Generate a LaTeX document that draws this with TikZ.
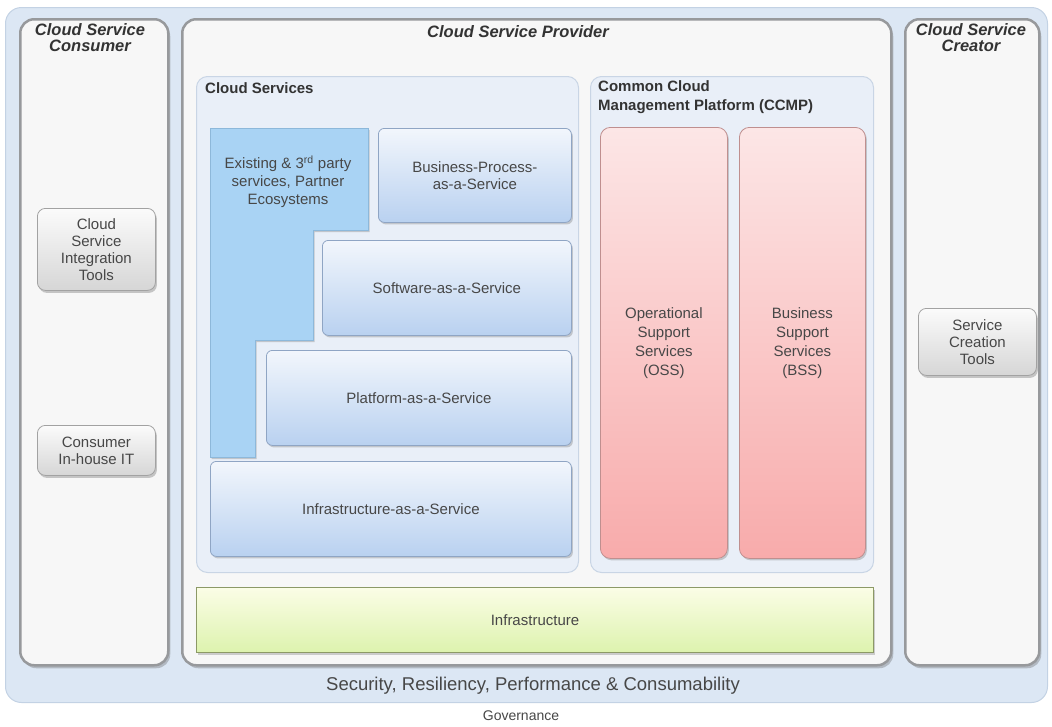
\documentclass[tikz,border=0pt]{standalone}
\usepackage{fontspec}
\setmainfont{Liberation Sans}
\usetikzlibrary{shadows}
\definecolor{outerfill}{HTML}{DCE7F4}
\definecolor{outerdraw}{HTML}{C3D2E4}
\definecolor{colfill}{HTML}{F7F7F7}
\definecolor{coldraw}{HTML}{97999C}
\definecolor{contfill}{HTML}{E9EFF8}
\definecolor{contdraw}{HTML}{C9D5E5}
\definecolor{bluetop}{HTML}{F2F6FC}
\definecolor{bluebot}{HTML}{B9D1F0}
\definecolor{bluedraw}{HTML}{8FA5C4}
\definecolor{lshape}{HTML}{A9D3F4}
\definecolor{lshapedraw}{HTML}{8DB8DA}
\definecolor{redtop}{HTML}{FCE6E6}
\definecolor{redbot}{HTML}{F8ABAB}
\definecolor{reddraw}{HTML}{BF8F8F}
\definecolor{greentop}{HTML}{FBFDE6}
\definecolor{greenbot}{HTML}{DDF3AE}
\definecolor{greendraw}{HTML}{8C9966}
\definecolor{graytop}{HTML}{FBFBFB}
\definecolor{graybot}{HTML}{D6D6D6}
\definecolor{graydraw}{HTML}{A2A2A2}
\definecolor{txt}{HTML}{474747}
\definecolor{ttl}{HTML}{333333}
\tikzset{
  box/.style={anchor=north west, inner sep=0pt, align=center, text=txt,
    font=\fontsize{15}{17}\selectfont},
  outerbox/.style={box, rounded corners=16pt, fill=outerfill, draw=outerdraw, line width=1pt},
  colbox/.style={box, rounded corners=14pt, fill=colfill, draw=coldraw, line width=2.5pt,
    drop shadow={shadow xshift=2pt, shadow yshift=-3pt, opacity=0.35, fill=black!60}},
  contbox/.style={box, rounded corners=11pt, fill=contfill, draw=contdraw, line width=1pt},
  bluebox/.style={box, rounded corners=6pt, top color=bluetop, bottom color=bluebot,
    draw=bluedraw, line width=0.8pt,
    drop shadow={shadow xshift=1.5pt, shadow yshift=-2pt, opacity=0.3, fill=black!60}},
  redbox/.style={box, rounded corners=10pt, top color=redtop, bottom color=redbot,
    draw=reddraw, line width=0.8pt, font=\fontsize{15}{19}\selectfont,
    drop shadow={shadow xshift=1.5pt, shadow yshift=-2pt, opacity=0.3, fill=black!60}},
  greenbox/.style={box, top color=greentop, bottom color=greenbot,
    draw=greendraw, line width=1pt,
    drop shadow={shadow xshift=1.5pt, shadow yshift=-2pt, opacity=0.3, fill=black!60}},
  graybox/.style={box, rounded corners=8pt, top color=graytop, bottom color=graybot,
    draw=graydraw, line width=0.8pt,
    drop shadow={shadow xshift=1.5pt, shadow yshift=-2.5pt, opacity=0.35, fill=black!60}},
  title/.style={inner sep=0pt, align=center, text=ttl,
    font=\fontsize{16.5}{16}\selectfont\bfseries\itshape},
  sublabel/.style={inner sep=0pt, anchor=north west, align=left, text=ttl,
    font=\fontsize{15}{19}\selectfont\bfseries},
}
\begin{document}
\begin{tikzpicture}[x=1pt, y=-1pt]
\fill[white] (0,0) rectangle (1052,726);
\useasboundingbox (0,0) rectangle (1052,726);

% outer frame
\node[outerbox, minimum width=1042pt, minimum height=695pt] (outer) at (5,7) {};
\node[inner sep=0pt, text=txt, font=\fontsize{18.5}{20}\selectfont] (sec) at (533,686)
  {Security, Resiliency, Performance \& Consumability};
\node[inner sep=0pt, text=txt, font=\fontsize{14}{16}\selectfont] (gov) at (521,716) {Governance};

% columns
\node[colbox, minimum width=148pt, minimum height=646pt] (consumer) at (19,18) {};
\node[colbox, minimum width=709pt, minimum height=646pt] (provider) at (181,18) {};
\node[colbox, minimum width=134pt, minimum height=646pt] (creator) at (904,18) {};

\node[title] (tconsumer) at (90,38) {Cloud Service\\Consumer};
\node[title] (tprovider) at (518,32) {Cloud Service Provider};
\node[title] (tcreator) at (971,38) {Cloud Service\\Creator};

% consumer tools
\node[graybox, minimum width=118pt, minimum height=82pt] (cit) at (37,208)
  {Cloud\\Service\\Integration\\Tools};
\node[graybox, minimum width=118pt, minimum height=50pt] (cih) at (37,425)
  {Consumer\\In-house IT};

% creator tools
\node[graybox, minimum width=118pt, minimum height=67pt] (sct) at (918,308)
  {Service\\Creation\\Tools};

% containers
\node[contbox, minimum width=382pt, minimum height=496pt] (cs) at (196,76) {};
\node[sublabel] (tcs) at (205,82) {Cloud Services};
\node[contbox, minimum width=283pt, minimum height=496pt] (ccmp) at (590,76) {};
\node[sublabel] (tccmp) at (598,80) {Common Cloud\\Management Platform (CCMP)};

% L-shape existing services
\fill[black!60, opacity=0.3, xshift=1.5pt, yshift=-2pt]
  (210,128) -- (368,128) -- (368,230) -- (313,230) -- (313,340) -- (255,340)
  -- (255,457) -- (210,457) -- cycle;
\draw[fill=lshape, draw=lshapedraw, line width=0.8pt]
  (210,128) -- (368,128) -- (368,230) -- (313,230) -- (313,340) -- (255,340)
  -- (255,457) -- (210,457) -- cycle;
\node[inner sep=0pt, align=center, text=txt, font=\fontsize{15}{18}\selectfont] (exist) at (288,182)
  {Existing \& 3\textsuperscript{rd} party\\services, Partner\\Ecosystems};

% service layers
\node[bluebox, minimum width=193pt, minimum height=94pt] (bpaas) at (378,128)
  {Business-Process-\\as-a-Service};
\node[bluebox, minimum width=249pt, minimum height=95pt] (saas) at (322,240)
  {Software-as-a-Service};
\node[bluebox, minimum width=305pt, minimum height=95pt] (paas) at (266,350)
  {Platform-as-a-Service};
\node[bluebox, minimum width=361pt, minimum height=95pt] (iaas) at (210,461)
  {Infrastructure-as-a-Service};

% CCMP
\node[redbox, minimum width=127pt, minimum height=431pt] (oss) at (600,127)
  {Operational\\Support\\Services\\(OSS)};
\node[redbox, minimum width=126pt, minimum height=431pt] (bss) at (739,127)
  {Business\\Support\\Services\\(BSS)};

% infrastructure
\node[greenbox, minimum width=677pt, minimum height=65pt] (infra) at (196,587)
  {Infrastructure};
\end{tikzpicture}
\end{document}
